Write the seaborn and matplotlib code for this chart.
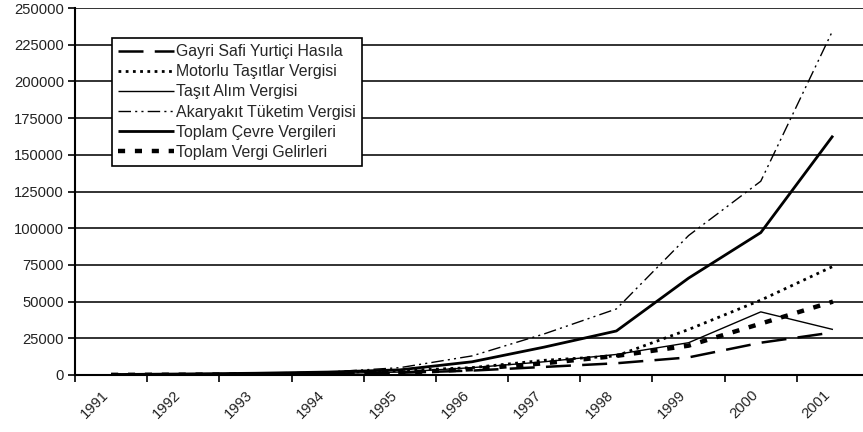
import matplotlib
matplotlib.use("Agg")
import matplotlib.pyplot as plt
import seaborn as sns
import pandas as pd
import numpy as np

years = ["1991", "1992", "1993", "1994", "1995", "1996", "1997", "1998", "1999", "2000", "2001"]
gsyih = [100, 200, 400, 800, 1500, 3000, 5500, 8000, 12000, 22000, 29000]
motorlu = [0, 300, 700, 1500, 3000, 5000, 10000, 13000, 31000, 51000, 74000]
tasit = [0, 200, 500, 1000, 2000, 5000, 9000, 14000, 22000, 43000, 31000]
akaryakit = [0, 500, 1000, 2000, 5000, 13000, 28000, 45000, 95000, 132000, 235000]
cevre = [300, 700, 1200, 2000, 3500, 9000, 19000, 30000, 66000, 97000, 163000]
toplam = [100, 200, 400, 800, 1500, 4000, 8000, 13000, 20000, 35000, 50000]

labels = ["Gayri Safi Yurtiçi Hasıla", "Motorlu Taşıtlar Vergisi", "Taşıt Alım Vergisi",
          "Akaryakıt Tüketim Vergisi", "Toplam Çevre Vergileri", "Toplam Vergi Gelirleri"]
series = [gsyih, motorlu, tasit, akaryakit, cevre, toplam]
styles = [
    dict(lw=1.8, dashes=(10, 4.5)),
    dict(lw=2.0, dashes=(1, 1.6)),
    dict(lw=1.0, dashes=None),
    dict(lw=1.0, dashes=(9, 3, 1.5, 3, 1.5, 3)),
    dict(lw=2.0, dashes=None),
    dict(lw=3.2, dashes=(1.6, 2.2)),
]

sns.set_style("white")
plt.rcParams['font.family'] = ['Liberation Sans', 'DejaVu Sans']
FS = 10.6
LFS = 11.4

fig = plt.figure(figsize=(8.63, 4.32), dpi=100)
ax = fig.add_axes([75/863, 1 - 375/432, 1 - 75/863 + 0.002, (375 - 8)/432])

x = np.arange(len(years))
for vals, lab, st in zip(series, labels, styles):
    df = pd.DataFrame({"x": x, "y": vals})
    sns.lineplot(data=df, x="x", y="y", ax=ax, color="black", lw=st["lw"], label=lab)
    l = ax.lines[-1]
    if st["dashes"] is not None:
        l.set_dashes(st["dashes"])
    l.set_solid_capstyle("butt")
    l.set_dash_capstyle("butt")

ax.set_ylim(0, 250000)
ax.set_xlim(-0.5, 10.44)
ax.set_yticks(np.arange(0, 250001, 25000))
ax.set_yticklabels([str(v) for v in range(0, 250001, 25000)], fontsize=FS, color="#222222")
ax.yaxis.grid(True, color="#222222", lw=1.3)
ax.set_axisbelow(True)

ax.set_xticks(np.arange(-0.5, 10.5, 1.0))
ax.set_xticklabels([])
ax.set_xticks(x, minor=True)
ax.set_xticklabels(years, minor=True, rotation=45, ha="right", va="top", fontsize=FS, color="#222222")
ax.tick_params(axis="x", which="major", length=5, width=1.2, color="black", direction="out", bottom=True)
ax.tick_params(axis="x", which="minor", length=0, pad=9)
ax.tick_params(axis="y", length=5, width=1.2, color="black", direction="out", left=True, pad=3)
ax.set_xlabel("")
ax.set_ylabel("")

for s in ["top", "right"]:
    ax.spines[s].set_visible(False)
for s in ["left", "bottom"]:
    ax.spines[s].set_color("black")
    ax.spines[s].set_linewidth(1.5)

leg = ax.legend(loc="upper left", bbox_to_anchor=((112 - 75) / 788, (375 - 38) / 367),
                fontsize=LFS, frameon=True, fancybox=False, edgecolor="black",
                handlelength=3.5, handletextpad=0.15, labelspacing=0.32, borderpad=0.4,
                borderaxespad=0)
leg.get_frame().set_linewidth(1.2)
leg.get_frame().set_facecolor("white")
leg.get_frame().set_alpha(1)

fig.savefig("out.png", dpi=100)
